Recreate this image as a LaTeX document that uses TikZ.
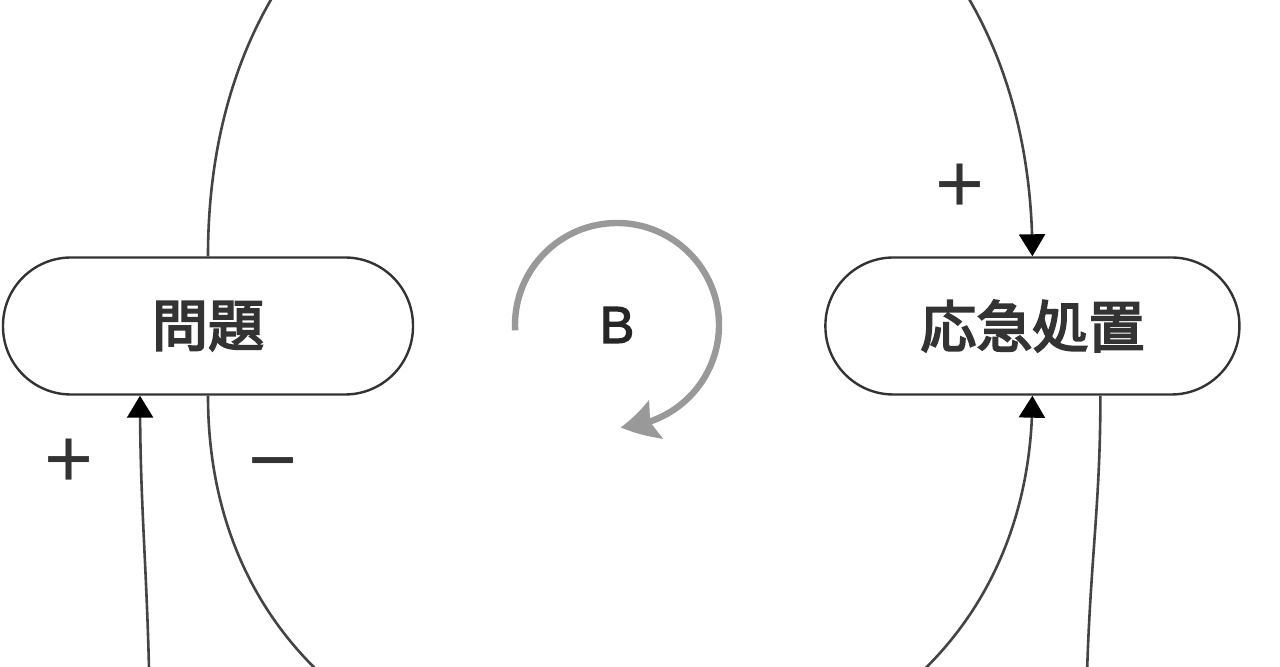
\documentclass[tikz,border=0pt]{standalone}
\usepackage{fontspec}
\setsansfont{Liberation Sans}
\newfontfamily\jpfont[FakeBold=3.5]{Noto Sans CJK JP}
\newfontfamily\loopfont[FakeBold=2.5]{Liberation Sans}
\usetikzlibrary{arrows.meta,positioning,bending}

\definecolor{boxline}{HTML}{333333}
\definecolor{linkline}{HTML}{444444}
\definecolor{loopgray}{HTML}{999999}

\begin{document}
\begin{tikzpicture}[
  x=0.5pt, y=-0.5pt,
  varbox/.style={draw=boxline, line width=1.2pt, rectangle, rounded corners=34pt,
    minimum width=205pt, minimum height=68.5pt, inner sep=0pt,
    font=\jpfont\fontsize{28}{32}\selectfont, text=boxline},
  link/.style={draw=linkline, line width=1.3pt},
  arrow/.style={link, -{Triangle[length=11pt,width=13pt,color=black]}},
  sign/.style={font=\sffamily\fontsize{42}{46}\selectfont, text=black!80, inner sep=0pt},
  loopmark/.style={draw=loopgray, line width=3.2pt, -{Stealth[length=18pt,width=20pt,inset=3pt,bend]}}
]
\useasboundingbox (0,0) rectangle (1280,667);
\clip (0,0) rectangle (1280,667);

\node[varbox] (prob) at (208,326) {問題};
\node[varbox, minimum width=207pt, right=205pt of prob] (resp) {応急処置};

% balancing loop mark
\coordinate (loopc) at (617,325);
\node[font=\loopfont\fontsize{26}{30}\selectfont, text=black!85] (bmark) at (loopc) {B};
\draw[loopmark] (loopc) ++(183:51pt) arc[start angle=183, end angle=-88, radius=51pt];

% links between the two variables
\draw[arrow] (prob.north) .. controls +(0,-608) and +(0,-608) .. (resp.north);
\draw[arrow] (prob.south) .. controls +(0,520) and +(0,520) .. (resp.south);

% links leaving the frame
\coordinate (lowL) at (150,720);
\coordinate (lowR) at (1086,720);
\draw[arrow] (lowL) .. controls +(-2,-150) and +(0,120) .. ([xshift=-34pt]prob.south);
\draw[link] ([xshift=34pt]resp.south) .. controls +(0,120) and +(2,-150) .. (lowR);

% polarity signs
\node[sign] (plusR) at (960,188) {+};
\node[sign] (plusL) at (69,463) {+};
\node[sign] (minusL) at (273,473) {−};
\end{tikzpicture}
\end{document}
